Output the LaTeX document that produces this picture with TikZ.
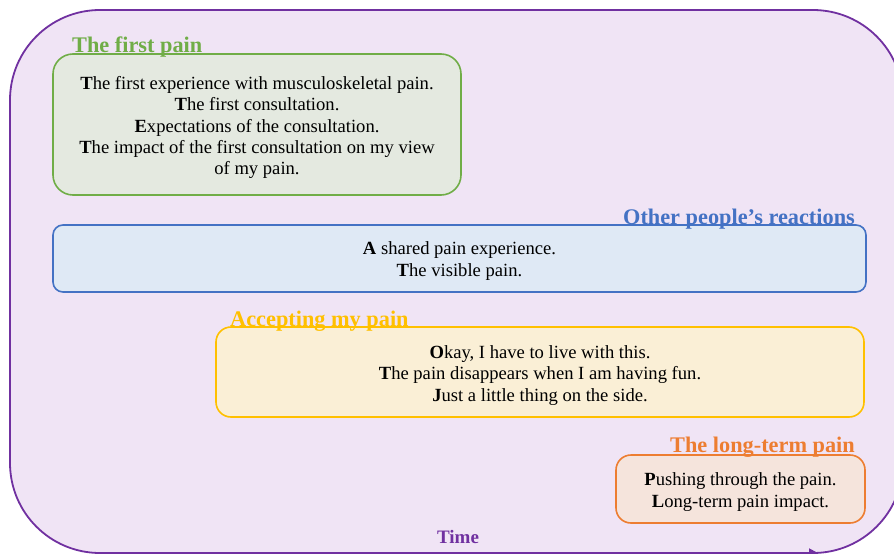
\documentclass[tikz,border=0pt]{standalone}
\usepackage{fontspec}
\setmainfont{Liberation Serif}
\usetikzlibrary{arrows.meta}
\definecolor{outerfill}{HTML}{F0E4F5}
\definecolor{outerline}{HTML}{7030A0}
\definecolor{gfill}{HTML}{E4E9E0}
\definecolor{gline}{HTML}{70AD47}
\definecolor{bfill}{HTML}{DFE9F5}
\definecolor{bline}{HTML}{4472C4}
\definecolor{yfill}{HTML}{FAEFD6}
\definecolor{yline}{HTML}{FFC000}
\definecolor{ofill}{HTML}{F5E4DC}
\definecolor{oline}{HTML}{ED7D31}
\tikzset{
  themebox/.style={draw, line width=1.6pt, inner sep=0pt},
  themetext/.style={align=center, inner sep=0pt,
    font=\fontsize{18.6}{21.2}\selectfont, text=black},
  themetitle/.style={font=\fontsize{22.3}{24}\selectfont\bfseries, inner sep=0pt},
}
\begin{document}
\begin{tikzpicture}[x=1pt,y=-1pt]
\useasboundingbox (0,0) rectangle (894,554);
% outer timeline frame
\fill[outerfill, rounded corners=90pt] (10,10) rectangle (903,553);
\draw[outerline, line width=1.8pt, rounded corners=90pt, -{Triangle[length=9pt,width=9pt]}]
  (600,553) -| (903,10) -| (10,553) -- (818,553);
% first pain
\node[themebox, fill=gfill, draw=gline, rounded corners=20pt, minimum width=408pt, minimum height=141pt]
  (first) at (257,124.5) {};
\node[themetext] (firstText) at ([yshift=-3pt]first.center) {\textbf{T}he first experience with musculoskeletal pain.\\
  \textbf{T}he first consultation.\\
  \textbf{E}xpectations of the consultation.\\
  \textbf{T}he impact of the first consultation on my view\\
  of my pain.};
\node[themetitle, text=gline, anchor=base west] (firstT) at (72,52) {The first pain};
% others
\node[themebox, fill=bfill, draw=bline, rounded corners=10pt, minimum width=813pt, minimum height=67pt]
  (others) at (459.5,258.5) {};
\node[themetext] (othersText) at ([yshift=-2.5pt]others.center) {\textbf{A} shared pain experience.\\
  \textbf{T}he visible pain.};
\node[themetitle, text=bline, anchor=base east] (othersT) at (855,224) {Other people’s reactions};
% accepting
\node[themebox, fill=yfill, draw=yline, rounded corners=15pt, minimum width=648pt, minimum height=90pt]
  (accept) at (540,372) {};
\node[themetext] (acceptText) at ([yshift=-3.5pt]accept.center) {\textbf{O}kay, I have to live with this.\\
  \textbf{T}he pain disappears when I am having fun.\\
  \textbf{J}ust a little thing on the side.};
\node[themetitle, text=yline, anchor=base west] (acceptT) at (230,326) {Accepting my pain};
% long-term
\node[themebox, fill=ofill, draw=oline, rounded corners=15pt, minimum width=249pt, minimum height=68pt]
  (longterm) at (740.5,489) {};
\node[themetext] (longtermText) at ([yshift=-3pt]longterm.center) {\textbf{P}ushing through the pain.\\
  \textbf{L}ong-term pain impact.};
\node[themetitle, text=oline, anchor=base east] (longtermT) at (855,452) {The long-term pain};
% time label
\node[font=\fontsize{19}{20}\selectfont\bfseries, text=outerline, anchor=base, inner sep=0pt] (time) at (458,543) {Time};
\end{tikzpicture}
\end{document}
